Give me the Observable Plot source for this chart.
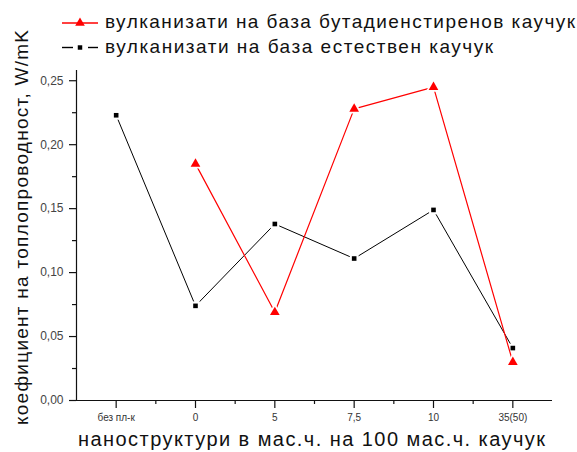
<!DOCTYPE html>
<html><head><meta charset="utf-8">
<script src="https://cdn.jsdelivr.net/npm/d3@7"></script>
<script src="https://cdn.jsdelivr.net/npm/@observablehq/plot@0.6"></script>
<style>
body{margin:0;background:#fff;}
#wrap{position:relative;width:577px;height:452px;font-family:"Liberation Sans",Arial,sans-serif;}
#wrap svg{position:absolute;left:0;top:0;}
</style></head><body><div id="wrap"></div>
<script>
const categories = ["без пл-к", "0", "5", "7,5", "10", "35(50)"];
const sbrValues = [null, 0.185, 0.069, 0.228, 0.245, 0.030];
const nrValues = [0.223, 0.074, 0.138, 0.111, 0.149, 0.041];
const yTicks = [0, 0.05, 0.10, 0.15, 0.20, 0.25];
const yMinorTicks = [0.025, 0.075, 0.125, 0.175, 0.225];
const seriesNames = ["вулканизати на база бутадиенстиренов каучук", "вулканизати на база естествен каучук"];
const seriesColors = ["#ff0000", "#000000"];
const xTitle = "наноструктури в мас.ч. на 100 мас.ч. каучук";
const yTitle = "коефициент на топлопроводност, W/mK";

const sbr = categories.map((c, i) => ({i, v: sbrValues[i]})).filter(d => d.v != null);
const nr = categories.map((c, i) => ({i, v: nrValues[i]}));
const idx = categories.map((c, i) => i);
const mids = idx.slice(1).map(i => i - 0.5);
const fmt = d => d3.format(".2f")(d).replace(".", ",");

const plot = Plot.plot({
  width: 577, height: 452,
  marginLeft: 76, marginRight: 25, marginTop: 70, marginBottom: 52,
  style: {fontFamily: "Liberation Sans, Arial, sans-serif", background: "transparent"},
  x: {type: "linear", domain: [-0.5, categories.length - 0.5]},
  y: {domain: [0, 0.258]},
  marks: [
    Plot.axisY(yTicks, {tickSize: 7, tickPadding: 6, tickFormat: fmt, fontSize: 12, label: null, stroke: "#111", strokeWidth: 1.2, fill: "#444"}),
    Plot.axisY(yMinorTicks, {tickSize: 4, tickFormat: () => "", label: null, stroke: "#111", strokeWidth: 1.2}),
    Plot.axisX(idx, {tickSize: 8, tickPadding: 5, tickFormat: i => categories[i], fontSize: 10, label: null, stroke: "#111", strokeWidth: 1.2, fill: "#333"}),
    Plot.axisX(mids, {tickSize: 4, tickFormat: () => "", label: null, stroke: "#111", strokeWidth: 1.2}),
    Plot.ruleX([-0.5], {stroke: "#111", strokeWidth: 1.2}),
    Plot.ruleY([0], {stroke: "#111", strokeWidth: 1.2}),
    Plot.line(nr, {x: "i", y: "v", stroke: seriesColors[1], strokeWidth: 1}),
    Plot.dot(nr, {x: "i", y: "v", symbol: "square", r: 5, fill: "#fff", stroke: "none"}),
    Plot.dot(nr, {x: "i", y: "v", symbol: "square", r: 2.6, fill: seriesColors[1], stroke: "none"}),
    Plot.line(sbr, {x: "i", y: "v", stroke: seriesColors[0], strokeWidth: 1.2}),
    Plot.dot(sbr, {x: "i", y: "v", symbol: "triangle", r: 5.8, fill: "#fff", stroke: "none"}),
    Plot.dot(sbr, {x: "i", y: "v", symbol: "triangle", r: 3.6, fill: seriesColors[0], stroke: "none"})
  ]
});
const wrap = document.getElementById("wrap");
wrap.appendChild(plot);

// overlay: legend and axis titles
const ov = d3.create("svg").attr("width", 577).attr("height", 452)
  .style("font-family", "Liberation Sans, Arial, sans-serif");
const sym = [d3.symbolTriangle, d3.symbolSquare];
const symSize = [40, 20];
const legendW = [470, 388];
seriesNames.forEach((name, k) => {
  const g = ov.append("g").attr("transform", `translate(62,${23 + k * 24.5})`);
  if (k === 0) {
    g.append("line").attr("x1", 0).attr("x2", 36).attr("y1", 0).attr("y2", 0).attr("stroke", seriesColors[k]).attr("stroke-width", 1.4);
  } else {
    g.append("line").attr("x1", 0).attr("x2", 11).attr("y1", 0).attr("y2", 0).attr("stroke", seriesColors[k]).attr("stroke-width", 1.4);
    g.append("line").attr("x1", 26).attr("x2", 36).attr("y1", 0).attr("y2", 0).attr("stroke", seriesColors[k]).attr("stroke-width", 1.4);
  }
  g.append("path").attr("d", d3.symbol(sym[k], symSize[k])()).attr("transform", "translate(18,0)").attr("fill", seriesColors[k]);
  g.append("text").attr("x", 43).attr("y", 5).attr("font-size", 19).attr("fill", "#111")
    .attr("textLength", legendW[k]).attr("lengthAdjust", "spacing").text(name);
});
ov.append("text").attr("x", 78).attr("y", 446).attr("font-size", 20).attr("fill", "#111")
  .attr("textLength", 467).attr("lengthAdjust", "spacing").text(xTitle);
ov.append("text").attr("transform", "translate(27.5,425) rotate(-90)").attr("font-size", 19).attr("fill", "#111")
  .attr("textLength", 395).attr("lengthAdjust", "spacing").text(yTitle);
wrap.appendChild(ov.node());
</script></body></html>
